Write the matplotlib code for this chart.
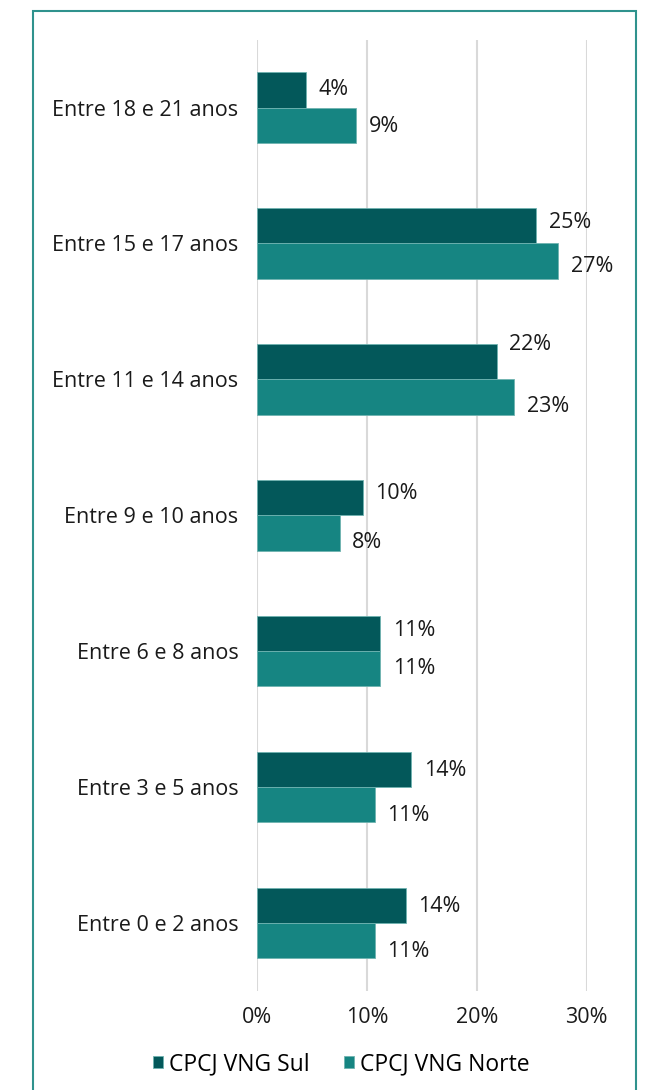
import matplotlib.pyplot as plt
import numpy as np
from matplotlib.patches import Rectangle

# categories bottom -> top
faixas = ["Entre 0 e 2 anos", "Entre 3 e 5 anos", "Entre 6 e 8 anos",
          "Entre 9 e 10 anos", "Entre 11 e 14 anos", "Entre 15 e 17 anos",
          "Entre 18 e 21 anos"]
sul = [13.5, 14.0, 11.2, 9.6, 21.8, 25.4, 4.4]
norte = [10.7, 10.7, 11.2, 7.5, 23.4, 27.4, 9.0]
sul_lbl = ["14%", "14%", "11%", "10%", "22%", "25%", "4%"]
norte_lbl = ["11%", "11%", "11%", "8%", "23%", "27%", "9%"]
xticks = [0, 10, 20, 30]
xtick_lbl = ["0%", "10%", "20%", "30%"]
series = ["CPCJ VNG Sul", "CPCJ VNG Norte"]

# label nudges in points (vertical), Excel-style placement
sul_dy = [-1, -1, 2, 3, 12, 2, 0]
norte_dy = [-8, -8, 0, -7, -7, -4, -1]

c_sul = "#03585a"
c_norte = "#168582"
font = "Open Sans"
fs = 15.5

fig = plt.figure(figsize=(6.49, 10.9), dpi=100)
ax = fig.add_axes([0.3965, 0.091, 0.5076, 0.8727])

y = np.arange(len(faixas))
h = 0.26
b1 = ax.barh(y + h/2, sul, height=h, color=c_sul, edgecolor="#6fb3b0", linewidth=0.6, label=series[0])
b2 = ax.barh(y - h/2, norte, height=h, color=c_norte, edgecolor="#6fb3b0", linewidth=0.6, label=series[1])

for i in range(len(faixas)):
    ax.annotate(sul_lbl[i], (sul[i], y[i] + h/2), xytext=(9, sul_dy[i]), textcoords="offset points",
                va="center", ha="left", fontsize=fs, family=font, color="#1a1a1a")
    ax.annotate(norte_lbl[i], (norte[i], y[i] - h/2), xytext=(9, norte_dy[i]), textcoords="offset points",
                va="center", ha="left", fontsize=fs, family=font, color="#1a1a1a")

ax.set_xlim(0, 30)
ax.set_ylim(-0.5, len(faixas) - 0.5)
ax.set_xticks(xticks)
ax.set_xticklabels(xtick_lbl, family=font, fontsize=fs, color="#1a1a1a")
ax.set_yticks(y)
ax.set_yticklabels(faixas, family=font, fontsize=fs, color="#1a1a1a")
ax.tick_params(length=0)
ax.tick_params(axis="y", pad=13.5)
ax.tick_params(axis="x", pad=12)
ax.grid(axis="x", color="#d9d9d9", linewidth=1.5)
ax.set_axisbelow(True)
for s in ax.spines.values():
    s.set_visible(False)

leg = fig.legend(handles=[b1, b2], labels=series, loc="center", bbox_to_anchor=(341/649, 1 - 1064/1090),
                 ncol=2, frameon=False, prop={"family": font, "size": 16.5},
                 handlelength=0.45, handleheight=0.45, handletextpad=0.25, columnspacing=1.5)

# outer frame
fig.patches.append(Rectangle((33/649, -0.01), (636-33)/649, 1.01 - 11/1090,
                             transform=fig.transFigure, fill=False, edgecolor="#2f928d", linewidth=1.5))

fig.savefig("out.png", dpi=100)
